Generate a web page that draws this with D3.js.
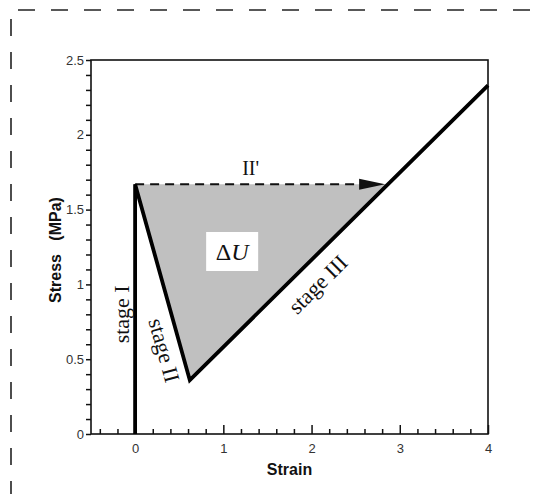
<!DOCTYPE html>
<html>
<head>
<meta charset="utf-8">
<script src="https://cdn.jsdelivr.net/npm/d3@7"></script>
<style>
  html, body { margin: 0; padding: 0; background: #fff; }
  svg { display: block; }
</style>
</head>
<body>
<svg id="chart" width="534" height="494"></svg>
<script>
// Stress–strain path: stage I (elastic rise), stage II (drop), stage III (re-hardening)
const pathStrain = [0, 0, 0.62, 4];
const pathStress = [0, 1.67, 0.36, 2.33];

// Axis ticks
const xMajorTicks = [0, 1, 2, 3, 4];
const xMinorTicks = [-0.4, -0.2, 0.2, 0.4, 0.6, 0.8, 1.2, 1.4, 1.6, 1.8, 2.2, 2.4, 2.6, 2.8, 3.2, 3.4, 3.6, 3.8];
const yMajorTicks = [0, 0.5, 1, 1.5, 2, 2.5];
const yMinorTicks = [0.1, 0.2, 0.3, 0.4, 0.6, 0.7, 0.8, 0.9, 1.1, 1.2, 1.3, 1.4, 1.6, 1.7, 1.8, 1.9, 2.1, 2.2, 2.3, 2.4];

const svg = d3.select("#chart");
const W = 534, H = 494;
const margin = { left: 91, top: 60, right: 46, bottom: 60 };

const x = d3.scaleLinear().domain([-0.5, 4]).range([margin.left, W - margin.right]);
const y = d3.scaleLinear().domain([0, 2.5]).range([H - margin.bottom, margin.top]);

// Outer dashed frame (only top and left edges fall inside the page)
svg.append("path")
  .attr("d", `M11,${H + 20} L11,10 L${W + 20},10`)
  .attr("fill", "none")
  .attr("stroke", "#222")
  .attr("stroke-width", 1.6)
  .attr("stroke-dasharray", "17,16")
  .attr("stroke-dashoffset", -16);

const pts = pathStrain.map((s, i) => [s, pathStress[i]]);
const peak = pts[1], valley = pts[2], end = pts[3];

// Where the stage III line climbs back to the peak stress
const slopeIII = (end[1] - valley[1]) / (end[0] - valley[0]);
const reachStrain = valley[0] + (peak[1] - valley[1]) / slopeIII;

// Shaded energy region ΔU
svg.append("path")
  .attr("d", d3.line().x(d => x(d[0])).y(d => y(d[1]))([peak, valley, [reachStrain, peak[1]]]) + "Z")
  .attr("fill", "#c0c0c0")
  .attr("stroke", "none");

// Plot frame
svg.append("rect")
  .attr("x", x(-0.5)).attr("y", y(2.5))
  .attr("width", x(4) - x(-0.5)).attr("height", y(0) - y(2.5))
  .attr("fill", "none").attr("stroke", "#111").attr("stroke-width", 1.6);

// X axis ticks (pointing into the plot)
const xAxisG = svg.append("g").attr("transform", `translate(0,${y(0)})`);
xAxisG.call(d3.axisTop(x).tickValues(xMinorTicks).tickSize(5).tickFormat(""));
xAxisG.append("g").call(d3.axisTop(x).tickValues(xMajorTicks).tickSize(9).tickFormat(""));
xAxisG.selectAll(".domain").remove();
xAxisG.selectAll("line").attr("stroke", "#111").attr("stroke-width", 1.5);

const xLabels = svg.append("g").attr("transform", `translate(0,${y(0)})`)
  .call(d3.axisBottom(x).tickValues(xMajorTicks).tickSize(0).tickPadding(10).tickFormat(d3.format("d")));
xLabels.select(".domain").remove();
xLabels.selectAll("text")
  .attr("font-family", "Liberation Sans, Arial, sans-serif")
  .attr("font-size", 13).attr("fill", "#333");

// Y axis ticks (pointing outward)
const yAxisG = svg.append("g").attr("transform", `translate(${x(-0.5)},0)`);
yAxisG.call(d3.axisLeft(y).tickValues(yMinorTicks).tickSize(5).tickFormat(""));
yAxisG.append("g").call(d3.axisLeft(y).tickValues(yMajorTicks).tickSize(5).tickPadding(2).tickFormat(d => d3.format("")(d)));
yAxisG.selectAll(".domain").remove();
yAxisG.selectAll("line").attr("stroke", "#111").attr("stroke-width", 1.5);
yAxisG.selectAll("text")
  .attr("font-family", "Liberation Sans, Arial, sans-serif")
  .attr("font-size", 13).attr("fill", "#333");

// Axis titles
svg.append("text")
  .attr("x", x(1.75)).attr("y", 475)
  .attr("text-anchor", "middle")
  .attr("font-family", "Liberation Sans, Arial, sans-serif")
  .attr("font-weight", "bold").attr("font-size", 16).attr("fill", "#111")
  .text("Strain");

svg.append("text")
  .attr("transform", `translate(61,${250}) rotate(-90)`)
  .attr("text-anchor", "middle")
  .attr("font-family", "Liberation Sans, Arial, sans-serif")
  .attr("font-weight", "bold").attr("font-size", 16).attr("fill", "#111")
  .attr("xml:space", "preserve")
  .style("white-space", "pre")
  .text("Stress   (MPa)");

// II' path: dashed horizontal line with arrowhead up to stage III
const arrowLen = 26, arrowHalf = 5.5;
const tipX = x(reachStrain) - 3, lineY = y(peak[1]);
svg.append("line")
  .attr("x1", x(peak[0])).attr("y1", lineY)
  .attr("x2", tipX - arrowLen + 2).attr("y2", lineY)
  .attr("stroke", "#111").attr("stroke-width", 2)
  .attr("stroke-dasharray", "9,6");
svg.append("path")
  .attr("d", `M${tipX},${lineY} L${tipX - arrowLen},${lineY - arrowHalf} L${tipX - arrowLen},${lineY + arrowHalf}Z`)
  .attr("fill", "#111");

// Main stress–strain path
svg.append("path")
  .attr("d", d3.line().x(d => x(d[0])).y(d => y(d[1]))(pts))
  .attr("fill", "none")
  .attr("stroke", "#000")
  .attr("stroke-width", 3.8)
  .attr("stroke-linejoin", "miter");

// ΔU label in a white box
const boxCx = x(1.1), boxCy = y(1.22);
svg.append("rect")
  .attr("x", boxCx - 26).attr("y", boxCy - 19.5)
  .attr("width", 52).attr("height", 39)
  .attr("fill", "#fff");
const du = svg.append("text")
  .attr("x", boxCx).attr("y", boxCy + 9)
  .attr("text-anchor", "middle")
  .attr("font-family", "Liberation Serif, Times New Roman, serif")
  .attr("font-size", 24).attr("fill", "#111");
du.append("tspan").text("Δ");
du.append("tspan").attr("font-style", "italic").text("U");

// II' label
svg.append("text")
  .attr("x", x(1.31)).attr("y", y(peak[1]) - 9)
  .attr("text-anchor", "middle")
  .attr("font-family", "Liberation Serif, Times New Roman, serif")
  .attr("font-size", 20).attr("fill", "#111")
  .text("II'");

// Stage labels, rotated along their segments
const serif = "Liberation Serif, Times New Roman, serif";
function segAngle(a, b) {
  return Math.atan2(y(b[1]) - y(a[1]), x(b[0]) - x(a[0])) * 180 / Math.PI;
}
function stageLabel(txt, cx, cy, angle) {
  svg.append("text")
    .attr("transform", `translate(${cx},${cy}) rotate(${angle})`)
    .attr("text-anchor", "middle")
    .attr("dominant-baseline", "central")
    .attr("font-family", serif)
    .attr("font-size", 22).attr("fill", "#111")
    .text(txt);
}
stageLabel("stage I", x(-0.15), y(0.80), -90);
stageLabel("stage II", x(0.33), y(0.56), segAngle(peak, valley));
stageLabel("stage III", x(2.07), y(1.0), segAngle(valley, end));
</script>
</body>
</html>
